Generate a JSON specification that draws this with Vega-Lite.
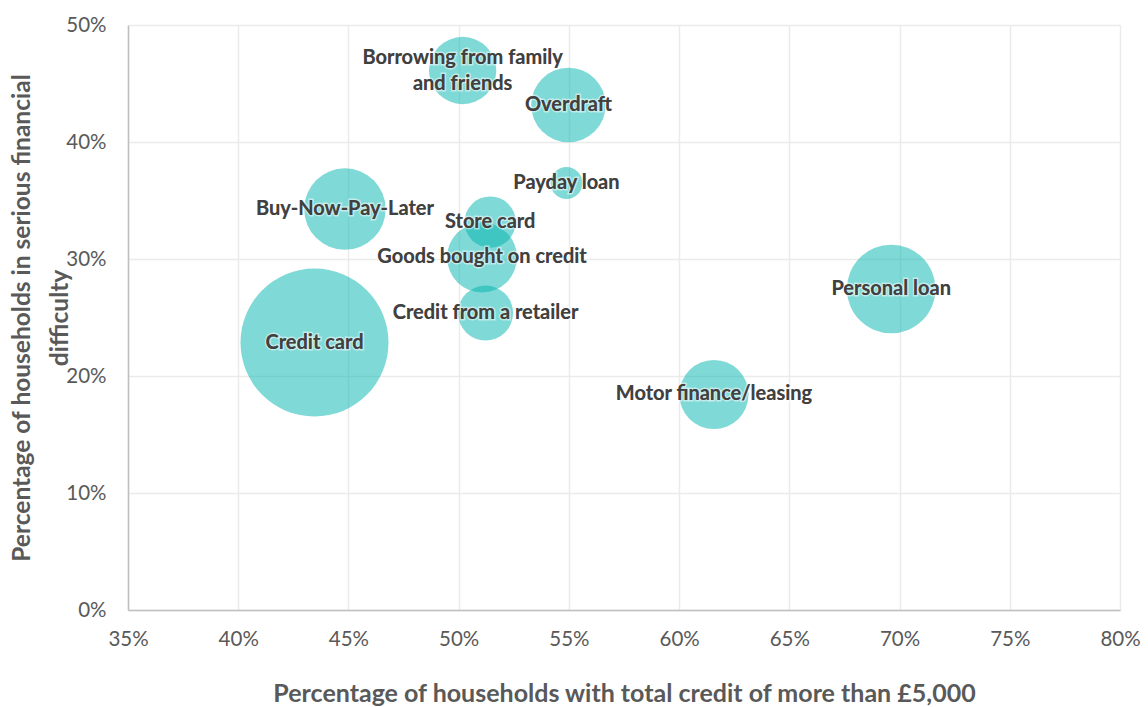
{
  "$schema": "https://vega.github.io/schema/vega-lite/v6.json",
  "autosize": "none",
  "width": 992,
  "height": 585,
  "padding": {"left": 128, "top": 25, "right": 28, "bottom": 97},
  "background": "white",
  "config": {
    "view": {"stroke": null},
    "font": "Lato",
    "axis": {
      "labelFont": "Lato",
      "labelFontSize": 20.5,
      "labelColor": "#595959",
      "labelFlush": false,
      "titleFont": "Lato",
      "titleFontWeight": "bold",
      "titleColor": "#595959",
      "gridColor": "#EBEBEB",
      "gridWidth": 1.5,
      "domainColor": "#BFBFBF",
      "domainWidth": 1.5,
      "ticks": false
    }
  },
  "data": {
    "values": [
      {"product": "Credit card", "credit5k": 0.4346, "difficulty": 0.2286, "households": 60},
      {"product": "Buy-Now-Pay-Later", "credit5k": 0.4484, "difficulty": 0.3427, "households": 18.2},
      {"product": "Borrowing from family\nand friends", "credit5k": 0.5018, "difficulty": 0.4611, "households": 12.4},
      {"product": "Overdraft", "credit5k": 0.5498, "difficulty": 0.4316, "households": 15.2},
      {"product": "Payday loan", "credit5k": 0.5489, "difficulty": 0.365, "households": 2.8},
      {"product": "Store card", "credit5k": 0.5143, "difficulty": 0.3316, "households": 7.2},
      {"product": "Goods bought on credit", "credit5k": 0.5106, "difficulty": 0.3013, "households": 13.4},
      {"product": "Credit from a retailer", "credit5k": 0.5122, "difficulty": 0.2538, "households": 8.3},
      {"product": "Personal loan", "credit5k": 0.6962, "difficulty": 0.2744, "households": 21.5},
      {"product": "Motor finance/leasing", "credit5k": 0.6158, "difficulty": 0.1842, "households": 13.1}
    ]
  },
  "encoding": {
    "x": {
      "field": "credit5k",
      "type": "quantitative",
      "scale": {"domain": [0.35, 0.8], "nice": false, "zero": false},
      "axis": {
        "values": [0.35, 0.4, 0.45, 0.5, 0.55, 0.6, 0.65, 0.7, 0.75, 0.8],
        "format": ".0%",
        "labelPadding": 19,
        "titlePadding": 32,
        "titleFontSize": 25,
        "title": "Percentage of households with total credit of more than £5,000"
      }
    },
    "y": {
      "field": "difficulty",
      "type": "quantitative",
      "scale": {"domain": [0, 0.5], "nice": false},
      "axis": {
        "values": [0, 0.1, 0.2, 0.3, 0.4, 0.5],
        "format": ".0%",
        "labelPadding": 22,
        "titlePadding": -7,
        "titleFontSize": 24.5,
        "titleLineHeight": 38,
        "title": ["Percentage of households in serious financial", "difficulty"]
      }
    }
  },
  "layer": [
    {
      "mark": {"type": "circle", "color": "#00B4AE", "opacity": 0.5},
      "encoding": {
        "size": {
          "field": "households",
          "type": "quantitative",
          "scale": {"domain": [0, 60], "range": [0, 21904], "zero": true},
          "legend": null
        }
      }
    },
    {
      "transform": [{"filter": "indexof(datum.product, '\\n') < 0"}],
      "mark": {"type": "text", "font": "Lato", "fontWeight": "bold", "fontSize": 20, "align": "center", "baseline": "middle", "color": "#404040", "stroke": "white", "strokeWidth": 3, "strokeOpacity": 0.5},
      "encoding": {"text": {"field": "product"}}
    },
    {
      "transform": [{"filter": "indexof(datum.product, '\\n') < 0"}],
      "mark": {"type": "text", "font": "Lato", "fontWeight": "bold", "fontSize": 20, "align": "center", "baseline": "middle", "color": "#404040"},
      "encoding": {"text": {"field": "product"}}
    },
    {
      "transform": [{"filter": "indexof(datum.product, '\\n') >= 0"}],
      "mark": {"type": "text", "font": "Lato", "fontWeight": "bold", "fontSize": 20, "align": "center", "baseline": "middle", "lineBreak": "\n", "lineHeight": 26, "dy": -13, "color": "#404040", "stroke": "white", "strokeWidth": 3, "strokeOpacity": 0.5},
      "encoding": {"text": {"field": "product"}}
    },
    {
      "transform": [{"filter": "indexof(datum.product, '\\n') >= 0"}],
      "mark": {"type": "text", "font": "Lato", "fontWeight": "bold", "fontSize": 20, "align": "center", "baseline": "middle", "lineBreak": "\n", "lineHeight": 26, "dy": -13, "color": "#404040"},
      "encoding": {"text": {"field": "product"}}
    }
  ]
}
